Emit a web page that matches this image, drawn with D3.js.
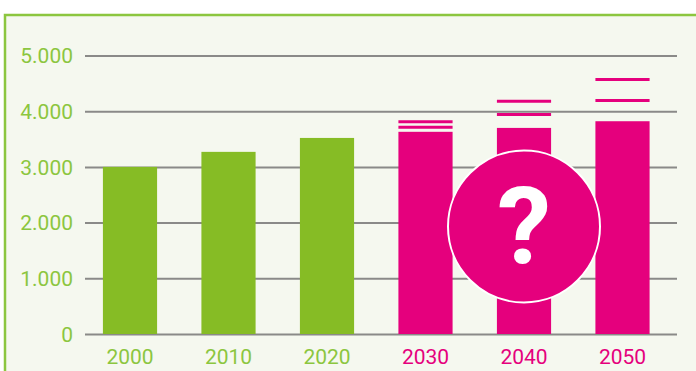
<!DOCTYPE html>
<html>
<head>
<meta charset="utf-8">
<script src="https://cdn.jsdelivr.net/npm/d3@7"></script>
<style>
  body { margin: 0; background: #ffffff; }
  svg { display: block; font-family: Roboto, "Liberation Sans", sans-serif; }
</style>
</head>
<body>
<div id="chart"></div>
<script>
// data
const years = ["2000", "2010", "2020", "2030", "2040", "2050"];
const barValues = [3000, 3270, 3520, 3630, 3700, 3820];
const isForecast = [false, false, false, true, true, true];
// extra scenario markers above the forecast bars
const scenarioYears = ["2030", "2030", "2040", "2040", "2050", "2050"];
const scenarioValues = [3710, 3810, 3940, 4180, 4190, 4570];
const yTicks = [0, 1000, 2000, 3000, 4000, 5000];
const yTickLabels = ["0", "1.000", "2.000", "3.000", "4.000", "5.000"];

const green = "#86bc25", pink = "#e5007d";
const W = 696, H = 371;

const svg = d3.select("#chart")
    .append("svg")
    .attr("width", W)
    .attr("height", H);

// panel
svg.append("rect")
    .attr("x", 5).attr("y", 15)
    .attr("width", W + 10).attr("height", H + 10)
    .attr("fill", "#f5f8ef")
    .attr("stroke", "#8cc63f")
    .attr("stroke-width", 2.5);

const x = d3.scaleBand()
    .domain(years)
    .range([80.75, 671.75])
    .paddingInner(0.45)
    .paddingOuter(0.225);

const y = d3.scaleLinear()
    .domain([0, 5000])
    .range([334, 55.5]);

// gridlines + y labels
const yAxis = svg.append("g")
    .attr("transform", "translate(85,0)")
    .call(d3.axisLeft(y).tickValues(yTicks).tickSize(-592).tickPadding(12)
        .tickFormat((d, i) => yTickLabels[i]));
yAxis.select(".domain").remove();
yAxis.selectAll("line").attr("stroke", "#8a8a88").attr("stroke-width", 2);
yAxis.selectAll("text")
    .attr("fill", "#8cc63f")
    .style("font-size", "21px")
    .style("font-family", "Roboto, sans-serif")
    .attr("dy", "0.35em");

// bars
svg.selectAll(".bar")
    .data(years)
    .join("rect")
    .attr("class", "bar")
    .attr("x", d => x(d))
    .attr("width", x.bandwidth())
    .attr("y", (d, i) => y(barValues[i]))
    .attr("height", (d, i) => y(0) - y(barValues[i]))
    .attr("fill", (d, i) => isForecast[i] ? pink : green);

// scenario lines
svg.selectAll(".scen")
    .data(scenarioValues)
    .join("line")
    .attr("class", "scen")
    .attr("x1", (d, i) => x(scenarioYears[i]))
    .attr("x2", (d, i) => x(scenarioYears[i]) + x.bandwidth())
    .attr("y1", d => y(d))
    .attr("y2", d => y(d))
    .attr("stroke", pink)
    .attr("stroke-width", 3);

// x labels
svg.selectAll(".xl")
    .data(years)
    .join("text")
    .attr("class", "xl")
    .attr("x", d => x(d) + x.bandwidth() / 2)
    .attr("y", 364)
    .attr("text-anchor", "middle")
    .attr("fill", (d, i) => isForecast[i] ? pink : "#8cc63f")
    .style("font-size", "21px")
    .text(d => d);

// question mark badge
const cx = x("2040") + x.bandwidth() / 2, cy = y(1930);
svg.append("circle")
    .attr("cx", cx).attr("cy", cy).attr("r", 76)
    .attr("fill", pink)
    .attr("stroke", "#ffffff")
    .attr("stroke-width", 2);
svg.append("text")
    .attr("x", cx).attr("y", cy + 37)
    .attr("text-anchor", "middle")
    .attr("fill", "#ffffff")
    .style("font-size", "108px")
    .style("font-weight", "bold")
    .text("?");
</script>
</body>
</html>
